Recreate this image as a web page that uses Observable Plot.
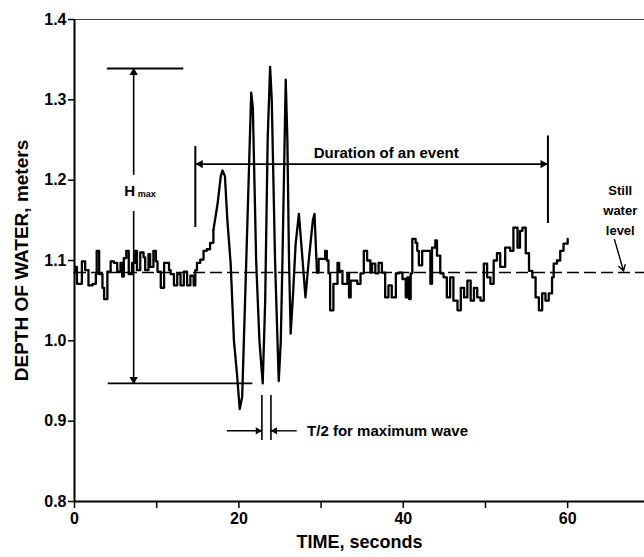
<!DOCTYPE html>
<html><head><meta charset="utf-8">
<script src="https://cdn.jsdelivr.net/npm/d3@7"></script>
<script src="https://cdn.jsdelivr.net/npm/@observablehq/plot@0.6"></script>
<style>
body{margin:0;background:#fff}
svg{display:block}
#chart svg{font-family:"Liberation Sans",Arial,sans-serif;font-weight:bold}
</style>
</head><body><div id="chart"></div>
<script>
// ---- data read from the record ----
const time = [0.0,0.1,0.3,0.5,0.9,1.3,1.7,2.2,2.6,2.7,3.0,3.4,3.6,4.0,4.4,4.8,5.2,5.6,5.8,6.0,6.3,6.6,7.0,7.4,7.6,8.0,8.4,8.6,9.0,9.2,9.6,9.9,10.1,10.5,10.9,11.3,11.5,11.7,12.1,12.5,12.9,13.3,13.7,14.1,14.5,14.7,14.9,15.3,15.7,16.1,16.5,16.9,17.4,17.8,18.0,18.3,18.6,19.0,19.4,19.8,20.1,20.4,20.9,21.5,21.7,22.1,22.5,22.9,23.2,23.5,23.8,24.0,24.4,24.85,25.1,25.3,25.7,25.9,26.1,26.3,26.6,26.9,27.3,27.6,28.1,28.5,29.0,29.2,29.5,29.7,30.5,30.7,30.9,31.1,31.5,32.0,32.2,32.6,33.2,33.4,33.6,34.4,34.8,35.2,35.6,36.0,36.2,36.6,37.0,37.4,37.8,38.2,38.6,39.1,39.5,39.9,40.3,40.5,40.7,40.9,41.1,41.5,41.7,41.9,42.3,42.9,43.3,43.5,43.9,44.1,44.5,44.9,45.3,45.7,46.1,46.6,47.0,47.4,47.8,48.2,48.6,49.0,49.4,49.8,50.2,50.6,51.0,51.4,51.8,52.4,53.0,53.4,53.9,54.2,54.5,54.9,55.3,55.7,56.1,56.5,56.9,57.3,57.7,58.1,58.3,58.7,59.1,59.5,60.0];
const depth = [1.085,1.092,1.071,1.071,1.099,1.088,1.069,1.071,1.083,1.112,1.083,1.066,1.052,1.086,1.099,1.097,1.086,1.097,1.080,1.103,1.112,1.083,1.097,1.112,1.088,1.110,1.104,1.088,1.108,1.092,1.112,1.099,1.086,1.066,1.097,1.097,1.088,1.083,1.069,1.083,1.069,1.086,1.069,1.081,1.069,1.088,1.097,1.101,1.112,1.114,1.122,1.138,1.170,1.205,1.212,1.205,1.150,1.096,1.000,0.955,0.915,0.930,1.100,1.309,1.290,1.100,1.000,0.947,1.050,1.250,1.341,1.300,1.100,0.950,1.000,1.100,1.325,1.250,1.100,1.009,1.060,1.120,1.158,1.120,1.054,1.100,1.150,1.158,1.085,1.102,1.112,1.100,1.084,1.038,1.071,1.097,1.087,1.071,1.084,1.054,1.075,1.071,1.084,1.112,1.100,1.085,1.096,1.084,1.097,1.085,1.054,1.069,1.054,1.084,1.085,1.077,1.054,1.079,1.052,1.084,1.127,1.122,1.112,1.094,1.112,1.112,1.071,1.116,1.125,1.106,1.084,1.079,1.054,1.079,1.050,1.038,1.066,1.054,1.075,1.050,1.066,1.054,1.050,1.096,1.079,1.071,1.100,1.109,1.092,1.116,1.112,1.141,1.116,1.137,1.141,1.109,1.087,1.079,1.054,1.038,1.059,1.050,1.059,1.079,1.096,1.100,1.112,1.121,1.127];

// the wave group (drawn with sloped strokes); the calm record before and after is blocky
const waveGroup = [16.9, 29.5];

const xTicks = [0, 10, 20, 30, 40, 50, 60, 70];
const xTickLabels = [0, 20, 40, 60];
const yTicks = [0.8, 0.9, 1.0, 1.1, 1.2, 1.3, 1.4];
const xTitle = "TIME, seconds";
const yTitle = "DEPTH OF WATER, meters";

// annotation values (in data units)
const stillWater = 1.085;
const hmaxTime = 7.2, hmaxTop = 1.339, hmaxBottom = 0.947;
const hmaxTopSpan = [4.0, 13.3], hmaxBottomSpan = [4.1, 21.7];
const hmaxLabelLevel = 1.186;
const durationStart = 14.7, durationEnd = 57.6, durationLevel = 1.22;
const durationStartBar = [1.141, 1.242], durationEndBar = [1.146, 1.255];
const durationText = "Duration of an event", durationTextAt = [29.1, 1.234];
const halfPeriod = [22.8, 23.9], halfPeriodBar = [0.876, 0.932], halfPeriodLevel = 0.888;
const halfPeriodArrowFrom = [18.6, 27.1];
const halfPeriodText = "T/2 for maximum wave", halfPeriodTextAt = 28.3;
const stillText = ["Still", "water", "level"], stillTextLevels = [1.187, 1.162, 1.137], stillTextTime = 66.4;
const stillArrow = {x1: 65.7, y1: 1.126, x2: 66.8, y2: 1.087};

const series = time.map((t, i) => ({t, v: depth[i]}));
const calmBefore = series.filter(d => d.t <= waveGroup[0]);
const waves = series.filter(d => d.t >= waveGroup[0] && d.t <= waveGroup[1]);
const calmAfter = series.filter(d => d.t >= waveGroup[1]);
const fontFamily = '"Liberation Sans", Arial, sans-serif';
const recordStyle = {x: "t", y: "v", strokeWidth: 2.3, strokeLinejoin: "round"};

const chart = Plot.plot({
  width: 644,
  height: 557,
  marginLeft: 74,
  marginRight: 0,
  marginTop: 19,
  marginBottom: 56,
  x: {domain: [0, 69.35]},
  y: {domain: [0.8, 1.4]},
  style: {fontFamily, fontWeight: "bold", background: "#fff", color: "#000"},
  marks: [
    Plot.ruleY([1.4], {stroke: "#444", strokeWidth: 1}),
    Plot.ruleY([stillWater], {strokeWidth: 1.6, strokeDasharray: "12,5"}),
    Plot.line(calmBefore, {...recordStyle, curve: "step-after"}),
    Plot.line(waves, {...recordStyle, curve: "linear"}),
    Plot.line(calmAfter, {...recordStyle, curve: "step-after"}),
    // H max
    Plot.ruleY([{y: hmaxTop, x1: hmaxTopSpan[0], x2: hmaxTopSpan[1]}, {y: hmaxBottom, x1: hmaxBottomSpan[0], x2: hmaxBottomSpan[1]}], {y: "y", x1: "x1", x2: "x2", strokeWidth: 1.8}),
    Plot.ruleX([{x: hmaxTime, y1: hmaxTop, y2: hmaxLabelLevel + 0.02}, {x: hmaxTime, y1: hmaxLabelLevel - 0.025, y2: hmaxBottom}], {x: "x", y1: "y1", y2: "y2", strokeWidth: 1.6}),
    Plot.dot([{x: hmaxTime, y: hmaxTop}], {x: "x", y: "y", symbol: "triangle2", r: 4, fill: "#000", stroke: null, dy: 4}),
    Plot.dot([{x: hmaxTime, y: hmaxBottom}], {x: "x", y: "y", symbol: "triangle2", r: 4, fill: "#000", stroke: null, rotate: 180, dy: -4}),
    Plot.text([{x: hmaxTime, y: hmaxLabelLevel}], {x: "x", y: "y", text: () => "H", fontSize: 15, dx: -4}),
    Plot.text([{x: hmaxTime, y: hmaxLabelLevel}], {x: "x", y: "y", text: () => "max", fontSize: 9, dx: 4, dy: 3, textAnchor: "start"}),
    // Duration
    Plot.ruleY([{y: durationLevel, x1: durationStart, x2: durationEnd}], {y: "y", x1: "x1", x2: "x2", strokeWidth: 1.6}),
    Plot.ruleX([{x: durationStart, y1: durationStartBar[0], y2: durationStartBar[1]}, {x: durationEnd, y1: durationEndBar[0], y2: durationEndBar[1]}], {x: "x", y1: "y1", y2: "y2", strokeWidth: 2}),
    Plot.dot([{x: durationStart, y: durationLevel}], {x: "x", y: "y", symbol: "triangle2", r: 4, fill: "#000", stroke: null, rotate: -90, dx: 5}),
    Plot.dot([{x: durationEnd, y: durationLevel}], {x: "x", y: "y", symbol: "triangle2", r: 4, fill: "#000", stroke: null, rotate: 90, dx: -5}),
    Plot.text([durationText], {x: durationTextAt[0], y: durationTextAt[1], textAnchor: "start", fontSize: 15}),
    // T/2
    Plot.ruleX(halfPeriod, {y1: halfPeriodBar[0], y2: halfPeriodBar[1], strokeWidth: 1.6}),
    Plot.ruleY([{x1: halfPeriodArrowFrom[0], x2: halfPeriod[0]}, {x1: halfPeriod[1], x2: halfPeriodArrowFrom[1]}], {y: halfPeriodLevel, x1: "x1", x2: "x2", strokeWidth: 1.4}),
    Plot.dot([halfPeriod[0]], {x: d => d, y: halfPeriodLevel, symbol: "triangle2", r: 3.5, fill: "#000", stroke: null, rotate: 90, dx: -4}),
    Plot.dot([halfPeriod[1]], {x: d => d, y: halfPeriodLevel, symbol: "triangle2", r: 3.5, fill: "#000", stroke: null, rotate: -90, dx: 4}),
    Plot.text([halfPeriodText], {x: halfPeriodTextAt, y: halfPeriodLevel, textAnchor: "start", fontSize: 15}),
    // Still water level
    Plot.text(stillText, {x: stillTextTime, y: (d, i) => stillTextLevels[i], text: d => d, fontSize: 13}),
    Plot.arrow([stillArrow], {x1: "x1", y1: "y1", x2: "x2", y2: "y2", strokeWidth: 1.4, headLength: 7}),
    // axes
    Plot.ruleX([0], {strokeWidth: 2}),
    Plot.ruleY([0.8], {strokeWidth: 2}),
    Plot.axisX({ticks: xTicks, tickSize: 7, tickPadding: 4, tickFormat: d => xTickLabels.includes(d) ? String(d) : "", fontSize: 16, fontWeight: "bold", label: null, strokeWidth: 1.5}),
    Plot.axisY({ticks: yTicks, tickSize: 6, tickPadding: 2, tickFormat: d3.format(".1f"), fontSize: 16, fontWeight: "bold", label: null, strokeWidth: 1.5}),
    Plot.text([xTitle], {frameAnchor: "bottom", dy: 46, fontSize: 18}),
    Plot.text([yTitle], {frameAnchor: "left", textAnchor: "middle", dx: -53, rotate: -90, fontSize: 19, letterSpacing: "0.4px"})
  ]
});
document.getElementById("chart").appendChild(chart);
</script>
</body></html>
